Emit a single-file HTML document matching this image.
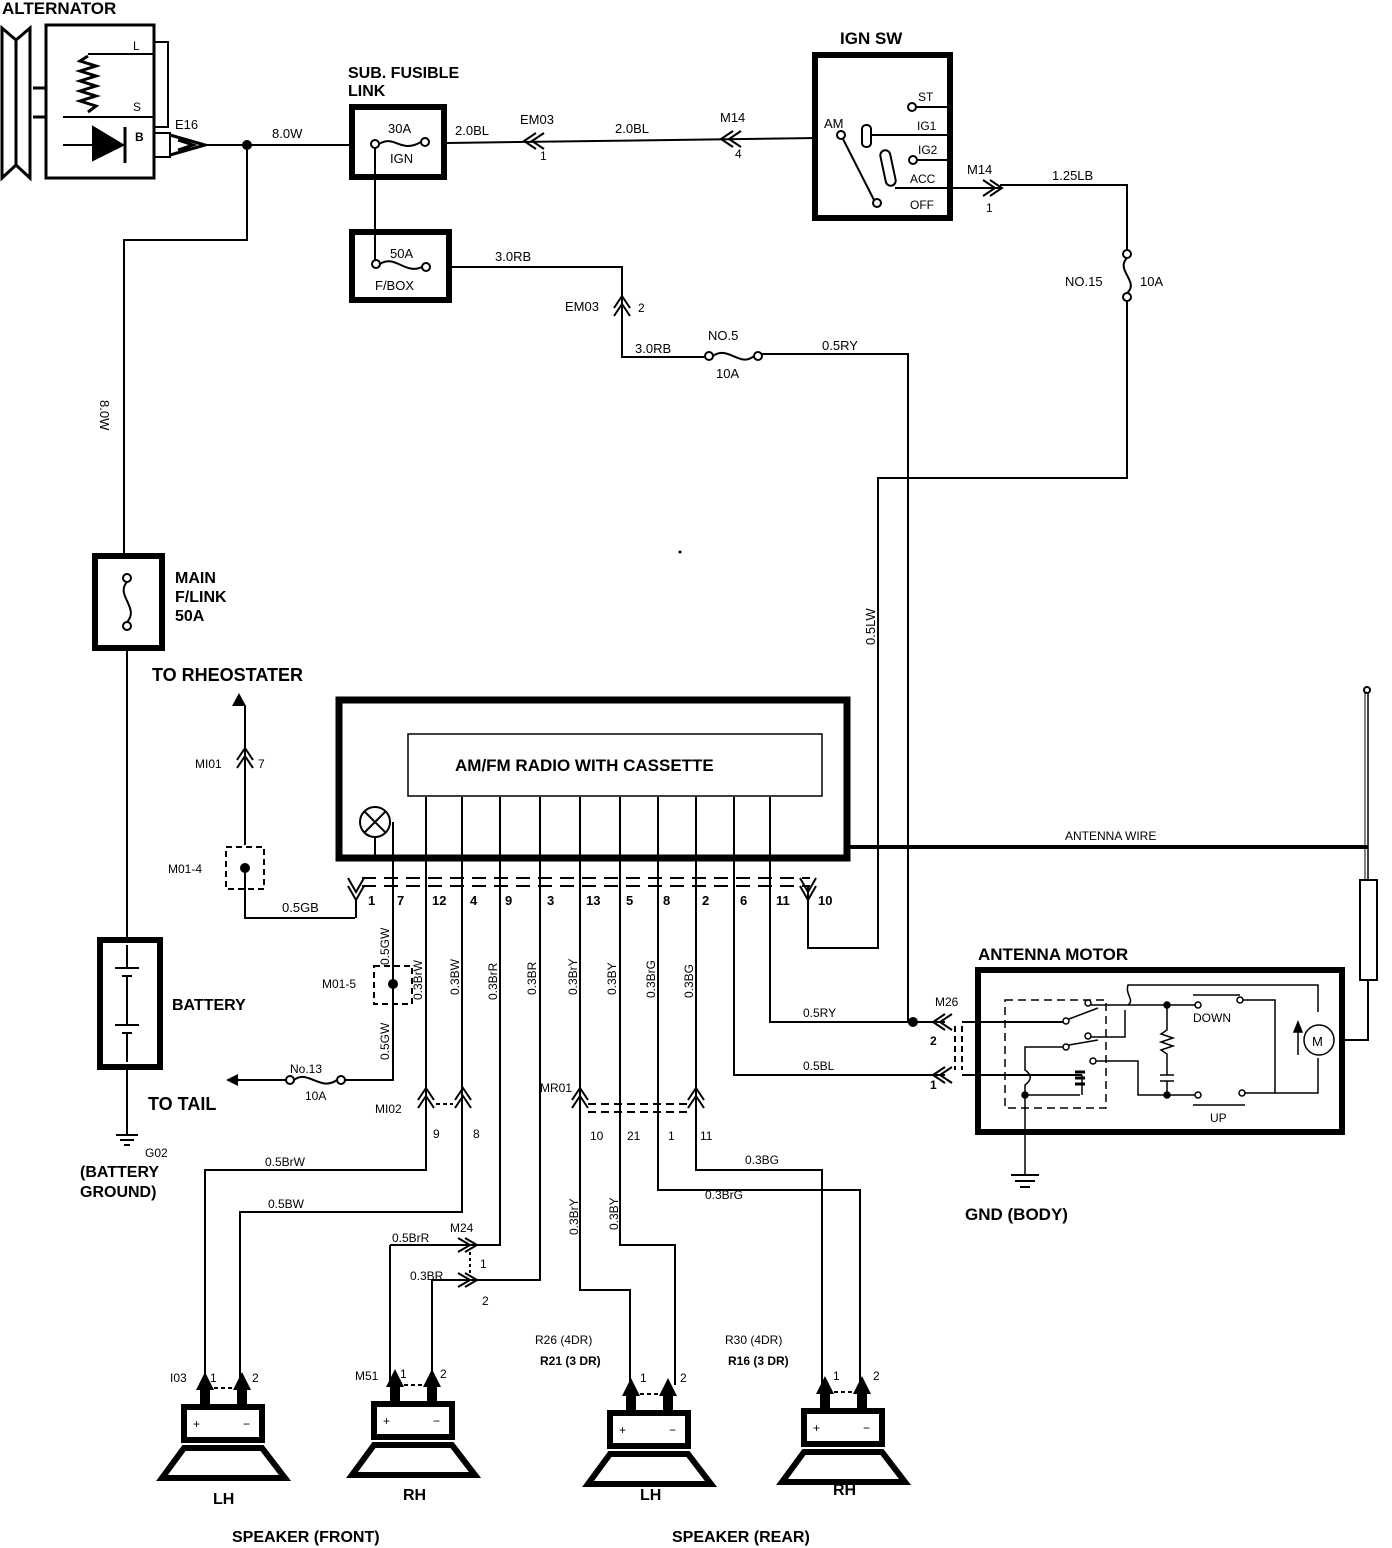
<!DOCTYPE html>
<html><head><meta charset="utf-8"><style>
html,body{margin:0;padding:0;background:#fff}
svg{display:block}
text{font-family:"Liberation Sans",sans-serif;fill:#000}
.b{font-weight:bold}
</style></head><body>
<svg width="1392" height="1548" viewBox="0 0 1392 1548" xmlns="http://www.w3.org/2000/svg" fill="none" stroke="#000" stroke-width="2">
<!-- ALTERNATOR -->
<text x="2" y="14" class="b" font-size="17" stroke="none">ALTERNATOR</text>
<path d="M2 28 L16 40 L30 28 L30 178 L16 165 L2 178 Z" stroke-width="3"/>
<line x1="16" y1="40" x2="16" y2="165" stroke-width="3"/>
<line x1="33" y1="88" x2="46" y2="88" stroke-width="3"/><line x1="33" y1="117" x2="46" y2="117" stroke-width="3"/>
<rect x="46" y="25" width="108" height="153" stroke-width="3"/>
<path d="M88 54 L154 54 M63 117 L154 117 M154 42 L168 42 L168 127 L154 127"/>
<path d="M88 56 l-8 5 l16 5 l-16 5 l16 5 l-16 5 l16 5 l-16 5 l16 5 l-16 5 l16 5 l-8 6" stroke-width="3"/>
<text x="133" y="50" font-size="12" stroke="none">L</text><text x="133" y="111" font-size="12" stroke="none">S</text><text x="135" y="141" font-size="12" class="b" stroke="none">B</text>
<path d="M63 145 L125 145"/><polygon points="93,127 93,160 123,145" fill="#000"/><line x1="125" y1="127" x2="125" y2="163" stroke-width="3"/>
<path d="M154 133 L170 133 L170 157 L154 157" stroke-width="2"/>
<path d="M170 135 L205 145 L170 155 M178 140 L193 145 L178 150" stroke-width="3"/>
<text x="175" y="129" font-size="13" stroke="none">E16</text>
<line x1="205" y1="145" x2="350" y2="145"/>
<circle cx="247" cy="145" r="4" fill="#000"/>
<text x="272" y="138" font-size="13" stroke="none">8.0W</text>
<path d="M247 145 L247 240 L124 240 L124 555"/>
<text x="120" y="420" font-size="13" stroke="none" transform="rotate(90 120 400)">8.0W</text>
<!-- SUB FUSIBLE -->
<text x="348" y="78" class="b" font-size="16" stroke="none">SUB. FUSIBLE</text>
<text x="348" y="96" class="b" font-size="16" stroke="none">LINK</text>
<rect x="352" y="107" width="92" height="70" stroke-width="6"/>
<circle cx="375" cy="144" r="4" fill="#fff"/><circle cx="425" cy="142" r="4" fill="#fff"/>
<path d="M379 144 C395 134 400 154 421 142"/>
<text x="388" y="133" font-size="13" stroke="none">30A</text><text x="390" y="163" font-size="13" stroke="none">IGN</text>
<path d="M375 148 L375 260"/>
<rect x="352" y="232" width="97" height="68" stroke-width="6"/>
<circle cx="376" cy="264" r="4" fill="#fff"/><circle cx="426" cy="267" r="4" fill="#fff"/>
<path d="M380 264 C395 254 405 275 422 267"/>
<text x="390" y="258" font-size="13" stroke="none">50A</text><text x="375" y="290" font-size="13" stroke="none">F/BOX</text>
<line x1="447" y1="143" x2="817" y2="138"/>
<text x="455" y="135" font-size="13" stroke="none">2.0BL</text>
<text x="520" y="124" font-size="13" stroke="none">EM03</text>
<path d="M536 133 L524 141 L536 149 M544 133 L532 141 L544 149"/><text x="540" y="160" font-size="12" stroke="none">1</text>
<text x="615" y="133" font-size="13" stroke="none">2.0BL</text>
<text x="720" y="122" font-size="13" stroke="none">M14</text>
<path d="M733 131 L721 139 L733 147 M741 131 L729 139 L741 147"/><text x="735" y="158" font-size="12" stroke="none">4</text>
<!-- IGN SW -->
<text x="840" y="44" class="b" font-size="17" stroke="none">IGN SW</text>
<rect x="815" y="55" width="135" height="163" stroke-width="6"/>
<text x="824" y="128" font-size="13" stroke="none">AM</text>
<circle cx="841" cy="135" r="4" fill="#fff"/>
<line x1="843" y1="139" x2="874" y2="200"/><circle cx="877" cy="203" r="4" fill="#fff"/>
<rect x="862" y="125" width="9" height="22" rx="4"/>
<line x1="871" y1="135" x2="950" y2="135"/>
<rect x="883" y="150" width="10" height="36" rx="5" transform="rotate(-12 888 168)"/>
<line x1="895" y1="188" x2="950" y2="188"/>
<circle cx="912" cy="107" r="4" fill="#fff"/><line x1="916" y1="107" x2="950" y2="107"/>
<circle cx="913" cy="160" r="4" fill="#fff"/><line x1="917" y1="160" x2="950" y2="160"/>
<text x="918" y="101" font-size="12" stroke="none">ST</text>
<text x="917" y="130" font-size="12" stroke="none">IG1</text>
<text x="918" y="154" font-size="12" stroke="none">IG2</text>
<text x="910" y="183" font-size="12" stroke="none">ACC</text>
<text x="910" y="209" font-size="12" stroke="none">OFF</text>
<line x1="950" y1="188" x2="1000" y2="188"/>
<path d="M983 180 L995 188 L983 196 M990 180 L1002 188 L990 196"/>
<text x="967" y="174" font-size="13" stroke="none">M14</text><text x="986" y="212" font-size="12" stroke="none">1</text>
<path d="M1000 185 L1127 185 L1127 250"/>
<text x="1052" y="180" font-size="13" stroke="none">1.25LB</text>
<circle cx="1127" cy="254" r="4" fill="#fff"/><circle cx="1127" cy="297" r="4" fill="#fff"/>
<path d="M1127 258 C1115 270 1140 282 1127 293"/>
<text x="1065" y="286" font-size="13" stroke="none">NO.15</text><text x="1140" y="286" font-size="13" stroke="none">10A</text>
<path d="M1127 301 L1127 478 L878 478 L878 948 L808 948 L808 885"/>
<text x="875" y="645" font-size="13" stroke="none" transform="rotate(-90 875 645)">0.5LW</text>
<!-- F/BOX to NO.5 -->
<path d="M449 267 L622 267 L622 357 L705 357"/>
<text x="495" y="261" font-size="13" stroke="none">3.0RB</text>
<text x="565" y="311" font-size="13" stroke="none">EM03</text>
<path d="M614 308 L622 296 L630 308 M614 316 L622 304 L630 316"/><text x="638" y="312" font-size="12" stroke="none">2</text>
<text x="635" y="353" font-size="13" stroke="none">3.0RB</text>
<circle cx="709" cy="356" r="4" fill="#fff"/><circle cx="758" cy="356" r="4" fill="#fff"/>
<path d="M713 356 C728 345 740 368 754 356"/>
<text x="708" y="340" font-size="13" stroke="none">NO.5</text><text x="716" y="378" font-size="13" stroke="none">10A</text>
<path d="M762 354 L908 354 L908 1022 L945 1022"/>
<text x="822" y="350" font-size="13" stroke="none">0.5RY</text>
<circle cx="680" cy="552" r="1.5" fill="#000" stroke="none"/>
<!-- MAIN F/LINK -->
<rect x="95" y="556" width="67" height="92" stroke-width="6"/>
<circle cx="127" cy="578" r="4" fill="#fff"/><circle cx="127" cy="626" r="4" fill="#fff"/>
<path d="M127 582 C115 595 140 608 127 622"/>
<text x="175" y="583" class="b" font-size="16" stroke="none">MAIN</text>
<text x="175" y="602" class="b" font-size="16" stroke="none">F/LINK</text>
<text x="175" y="621" class="b" font-size="16" stroke="none">50A</text>
<path d="M127 650 L127 940"/>
<!-- BATTERY -->
<rect x="100" y="940" width="60" height="127" stroke-width="6"/>
<path d="M127 945 L127 968 M115 968 L139 968 M122 976 L132 976 M127 976 L127 1025 M115 1025 L139 1025 M122 1033 L132 1033 M127 1033 L127 1062"/>
<text x="172" y="1010" class="b" font-size="16" stroke="none">BATTERY</text>
<path d="M127 1070 L127 1135 M116 1135 L138 1135 M120 1140 L134 1140 M124 1145 L130 1145"/>
<text x="145" y="1157" font-size="12" stroke="none">G02</text>
<text x="80" y="1177" class="b" font-size="16" stroke="none">(BATTERY</text>
<text x="80" y="1197" class="b" font-size="16" stroke="none">GROUND)</text>
<!-- TO RHEOSTATER -->
<text x="152" y="681" class="b" font-size="18" stroke="none">TO RHEOSTATER</text>
<polygon points="239,693 246,706 232,706" fill="#000" stroke="none"/>
<path d="M245 705 L245 845"/>
<path d="M237 760 L245 748 L253 760 M237 768 L245 756 L253 768"/>
<text x="195" y="768" font-size="12" stroke="none">MI01</text><text x="258" y="768" font-size="12" stroke="none">7</text>
<rect x="226" y="847" width="38" height="42" stroke-dasharray="6 4"/>
<circle cx="245" cy="868" r="4" fill="#000"/>
<text x="168" y="873" font-size="12" stroke="none">M01-4</text>
<path d="M245 872 L245 918 L355 918"/>
<text x="282" y="912" font-size="13" stroke="none">0.5GB</text>
<!-- RADIO -->
<rect x="339" y="700" width="508" height="158" stroke-width="7"/>
<rect x="408" y="734" width="414" height="62" stroke-width="1.5"/>
<text x="455" y="771" class="b" font-size="17" stroke="none">AM/FM RADIO WITH CASSETTE</text>
<circle cx="375" cy="822" r="15"/>
<path d="M365 812 L385 832 M385 812 L365 832"/>
<path d="M375 837 L375 855 M393 822 L393 1080 L345 1080"/>
<line x1="848" y1="847" x2="1368" y2="847" stroke-width="4"/>
<text x="1065" y="840" font-size="12" stroke="none">ANTENNA WIRE</text>
<!-- antenna mast -->
<path d="M1368 690 L1368 880" stroke-width="1.5"/><path d="M1365 690 L1365 880" stroke-width="1"/>
<circle cx="1367" cy="690" r="3" fill="#fff"/>
<rect x="1360" y="880" width="17" height="100" stroke-width="2"/>
<path d="M1368 980 L1368 1040 L1345 1040"/>
<!-- radio pin wires -->
<path d="M426 797 L426 1170 L205 1170 L205 1385"/>
<path d="M462 797 L462 1212 L240 1212 L240 1385"/>
<path d="M500 797 L500 1245 L470 1245"/>
<path d="M390 1245 L470 1245"/>
<path d="M390 1245 L390 1385"/>
<path d="M540 797 L540 1280 L470 1280"/>
<path d="M432 1280 L470 1280 M432 1280 L432 1385"/>
<path d="M580 797 L580 1290 L630 1290 L630 1385"/>
<path d="M620 797 L620 1245 L675 1245 L675 1385"/>
<path d="M658 797 L658 1190 L860 1190 L860 1385"/>
<path d="M696 797 L696 1170 L822 1170 L822 1385"/>
<path d="M734 797 L734 1075 L945 1075"/>
<path d="M770 797 L770 1022 L908 1022"/>
<circle cx="913" cy="1022" r="4" fill="#000"/>
<!-- connector row -->
<path d="M362 878 L810 878 M362 886 L810 886" stroke-dasharray="14 8"/>
<path d="M348 878 L356 892 L364 878 M348 886 L356 900 L364 886 M356 900 L356 918"/>
<path d="M800 878 L808 892 L816 878 M800 886 L808 900 L816 886"/>
<g font-size="13" class="b" stroke="none">
<text x="368" y="905">1</text><text x="397" y="905">7</text><text x="432" y="905">12</text><text x="470" y="905">4</text><text x="505" y="905">9</text><text x="547" y="905">3</text><text x="586" y="905">13</text><text x="626" y="905">5</text><text x="663" y="905">8</text><text x="702" y="905">2</text><text x="740" y="905">6</text><text x="776" y="905">11</text><text x="818" y="905">10</text>
</g>
<g font-size="12" stroke="none">
<text transform="translate(389 965) rotate(-90)">0.5GW</text>
<text transform="translate(422 1000) rotate(-90)">0.3BrW</text>
<text transform="translate(459 995) rotate(-90)">0.3BW</text>
<text transform="translate(497 1000) rotate(-90)">0.3BrR</text>
<text transform="translate(536 995) rotate(-90)">0.3BR</text>
<text transform="translate(577 995) rotate(-90)">0.3BrY</text>
<text transform="translate(616 995) rotate(-90)">0.3BY</text>
<text transform="translate(655 998) rotate(-90)">0.3BrG</text>
<text transform="translate(693 998) rotate(-90)">0.3BG</text>
<text transform="translate(389 1060) rotate(-90)">0.5GW</text>
</g>
<rect x="374" y="966" width="38" height="38" stroke-dasharray="6 4"/>
<circle cx="393" cy="984" r="4" fill="#000"/>
<text x="322" y="988" font-size="12" stroke="none">M01-5</text>
<!-- TO TAIL -->
<circle cx="290" cy="1080" r="4" fill="#fff"/><circle cx="341" cy="1080" r="4" fill="#fff"/>
<path d="M294 1080 C308 1069 320 1092 337 1080"/>
<path d="M286 1080 L236 1080"/><polygon points="226,1080 238,1074 238,1086" fill="#000" stroke="none"/>
<text x="290" y="1073" font-size="12" stroke="none">No.13</text><text x="305" y="1100" font-size="12" stroke="none">10A</text>
<text x="148" y="1110" class="b" font-size="18" stroke="none">TO TAIL</text>
<!-- MI02 -->
<path d="M418 1100 L426 1088 L434 1100 M418 1108 L426 1096 L434 1108"/>
<path d="M455 1100 L463 1088 L471 1100 M455 1108 L463 1096 L471 1108"/>
<path d="M436 1104 L453 1104" stroke-dasharray="4 3"/>
<text x="375" y="1113" font-size="12" stroke="none">MI02</text>
<text x="433" y="1138" font-size="12" stroke="none">9</text><text x="473" y="1138" font-size="12" stroke="none">8</text>
<!-- MR01 -->
<path d="M572 1100 L580 1088 L588 1100 M572 1108 L580 1096 L588 1108"/>
<path d="M688 1100 L696 1088 L704 1100 M688 1108 L696 1096 L704 1108"/>
<path d="M588 1104 L688 1104 M588 1112 L688 1112" stroke-dasharray="8 5"/>
<text x="540" y="1092" font-size="12" stroke="none">MR01</text>
<g font-size="12" stroke="none"><text x="590" y="1140">10</text><text x="627" y="1140">21</text><text x="668" y="1140">1</text><text x="700" y="1140">11</text></g>
<g font-size="12" stroke="none">
<text x="265" y="1166">0.5BrW</text><text x="268" y="1208">0.5BW</text>
<text x="392" y="1242">0.5BrR</text><text x="450" y="1232">M24</text>
<text x="410" y="1280">0.3BR</text>
<text x="480" y="1268">1</text><text x="482" y="1305">2</text>
<text x="745" y="1164">0.3BG</text><text x="705" y="1199">0.3BrG</text>
<text transform="translate(578 1235) rotate(-90)">0.3BrY</text>
<text transform="translate(618 1230) rotate(-90)">0.3BY</text>
</g>
<path d="M458 1238 L470 1245 L458 1252 M465 1238 L477 1245 L465 1252 M458 1273 L470 1280 L458 1287 M465 1273 L477 1280 L465 1287"/>
<path d="M470 1252 L470 1273" stroke-dasharray="3 3"/>
<!-- ANTENNA MOTOR -->
<text x="978" y="960" class="b" font-size="17" stroke="none">ANTENNA MOTOR</text>
<rect x="978" y="970" width="364" height="162" stroke-width="6"/>
<text x="935" y="1006" font-size="12" stroke="none">M26</text>
<path d="M945 1014 L933 1022 L945 1030 M952 1014 L940 1022 L952 1030 M945 1067 L933 1075 L945 1083 M952 1067 L940 1075 L952 1083"/>
<path d="M955 1026 L955 1070 M962 1026 L962 1070" stroke-dasharray="6 4"/>
<text x="930" y="1045" font-size="12" class="b" stroke="none">2</text><text x="930" y="1089" font-size="12" class="b" stroke="none">1</text>
<path d="M962 1022 L1063 1022 M962 1075 L1082 1075"/>
<text x="803" y="1017" font-size="12" stroke="none">0.5RY</text><text x="803" y="1070" font-size="12" stroke="none">0.5BL</text>
<g stroke-width="1.5">
<path d="M1005 1000 L1106 1000 L1106 1108 L1005 1108 Z" stroke-dasharray="8 5"/>
<circle cx="1066" cy="1021" r="3" fill="#fff"/><circle cx="1088" cy="1003" r="3" fill="#fff"/><path d="M1069 1019 L1098 1008"/>
<circle cx="1066" cy="1047" r="3" fill="#fff"/><circle cx="1088" cy="1036" r="3" fill="#fff"/><path d="M1069 1045 L1098 1040"/>
<circle cx="1093" cy="1061" r="3" fill="#fff"/>
<path d="M1091 1005 L1128 1005 M1128 1005 C1135 1000 1125 995 1128 985 L1318 985 L1318 1012"/>
<path d="M1091 1037 L1125 1037 L1125 1010"/>
<path d="M1063 1047 L1025 1047 L1025 1070 C1032 1075 1032 1080 1025 1085 L1025 1095 L1080 1095 M1082 1075 L1082 1095"/>
<path d="M1075 1072 l10 0 m-10 6 l10 0 m-10 6 l10 0" stroke-width="3"/>
<circle cx="1025" cy="1095" r="3" fill="#000"/>
<path d="M1025 1095 L1025 1175"/>
<path d="M1096 1061 L1138 1061 L1138 1095 L1196 1095"/>
<path d="M1128 1005 L1196 1005"/>
<circle cx="1167" cy="1005" r="3" fill="#000"/><circle cx="1167" cy="1095" r="3" fill="#000"/>
<path d="M1167 1005 L1167 1030 l-6 4 l12 4 l-12 4 l12 4 l-12 4 l6 4 L1167 1075 M1160 1075 L1174 1075 M1160 1081 L1174 1081 M1167 1081 L1167 1095"/>
<circle cx="1198" cy="1005" r="3" fill="#fff"/><circle cx="1240" cy="1000" r="3" fill="#fff"/>
<path d="M1193 995 L1240 995"/>
<circle cx="1198" cy="1095" r="3" fill="#fff"/><circle cx="1242" cy="1093" r="3" fill="#fff"/>
<path d="M1193 1105 L1245 1105"/>
<path d="M1243 1000 L1275 1000 L1275 1093 L1245 1093 M1275 1093 L1318 1093 L1318 1058"/>
<circle cx="1319" cy="1040" r="15"/>
<path d="M1298 1055 L1298 1030"/><polygon points="1298,1022 1294,1032 1302,1032" fill="#000"/>
</g>
<text x="1312" y="1046" font-size="13" stroke="none">M</text>
<text x="1193" y="1022" font-size="12" stroke="none">DOWN</text><text x="1210" y="1122" font-size="12" stroke="none">UP</text>
<path d="M1011 1175 L1039 1175 M1015 1181 L1035 1181 M1020 1187 L1030 1187"/>
<text x="965" y="1220" class="b" font-size="17" stroke="none">GND (BODY)</text>
<!-- SPEAKERS -->
<g id="spk">
<rect x="184" y="1407" width="78" height="33" stroke-width="6"/>
<path d="M184 1448 L262 1448 L285 1478 L162 1478 Z" stroke-width="6"/>
<text x="193" y="1428" font-size="12" stroke="none">+</text><text x="243" y="1428" font-size="12" stroke="none">−</text>
<polygon points="205,1372 196,1390 200,1390 200,1405 210,1405 210,1390 214,1390" fill="#000" stroke="none"/>
<polygon points="242,1372 233,1390 237,1390 237,1405 247,1405 247,1390 251,1390" fill="#000" stroke="none"/>
<path d="M214 1388 L233 1388" stroke-dasharray="4 3"/>
</g>
<use href="#spk" transform="translate(190 -3)"/>
<use href="#spk" transform="translate(426 6)"/>
<use href="#spk" transform="translate(620 4)"/>
<g font-size="12" stroke="none">
<text x="170" y="1382">I03</text><text x="210" y="1382">1</text><text x="252" y="1382">2</text>
<text x="355" y="1380">M51</text><text x="400" y="1378">1</text><text x="440" y="1378">2</text>
<text x="640" y="1382">1</text><text x="680" y="1382">2</text>
<text x="833" y="1380">1</text><text x="873" y="1380">2</text>
<text x="535" y="1344">R26 (4DR)</text><text x="540" y="1365" class="b">R21 (3 DR)</text>
<text x="725" y="1344">R30 (4DR)</text><text x="728" y="1365" class="b">R16 (3 DR)</text>
</g>
<g class="b" font-size="16" stroke="none">
<text x="213" y="1504">LH</text><text x="403" y="1500">RH</text><text x="640" y="1500">LH</text><text x="833" y="1495">RH</text>
<text x="232" y="1542">SPEAKER (FRONT)</text><text x="672" y="1542">SPEAKER (REAR)</text>
</g>
</svg>
</body></html>
